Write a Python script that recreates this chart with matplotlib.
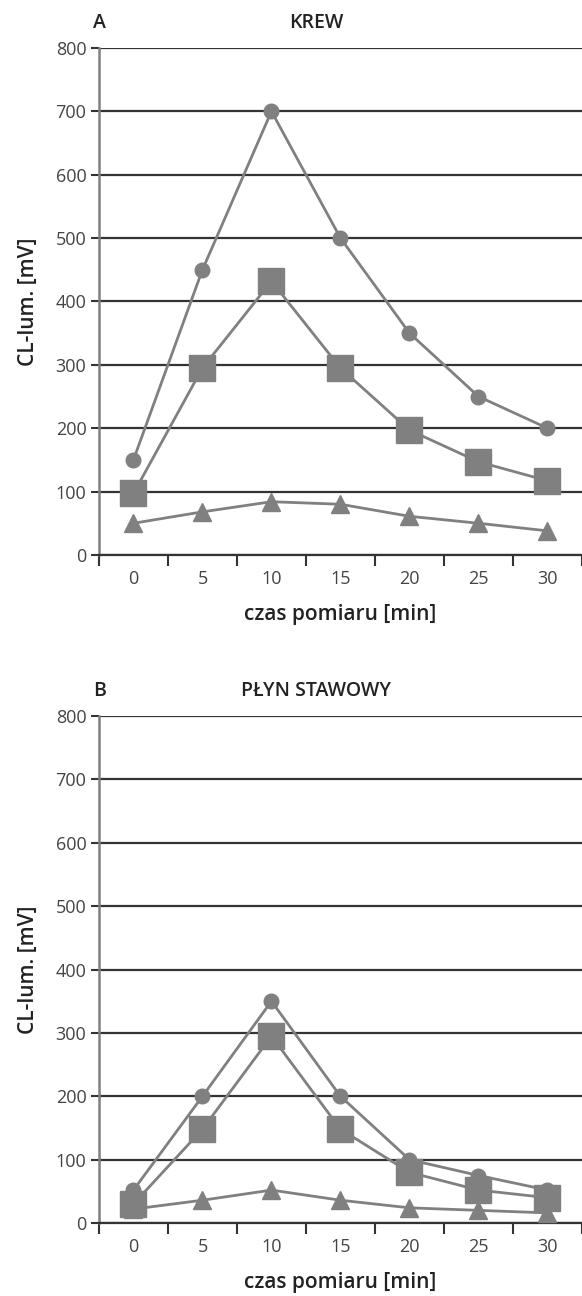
import numpy as np
import matplotlib
matplotlib.use("Agg")
from matplotlib import pyplot as plt

plt.rcParams['font.family'] = ['Open Sans', 'DejaVu Sans']

czas = ['0', '5', '10', '15', '20', '25', '30']

krew_kolo = [150, 450, 700, 500, 350, 250, 200]
krew_kwadrat = [97, 295, 432, 295, 197, 147, 117]
krew_trojkat = [50, 68, 84, 80, 61, 50, 38]

plyn_kolo = [52, 200, 350, 200, 100, 75, 52]
plyn_kwadrat = [30, 148, 295, 148, 80, 52, 40]
plyn_trojkat = [22, 36, 52, 36, 24, 20, 16]

szary = '#808080'
ciemny = '#333333'

fig = plt.figure(figsize=(5.82, 12.96), dpi=100)
ax1 = fig.add_axes([0.170, 0.5718, 0.830, 0.3912])
ax2 = fig.add_axes([0.170, 0.0563, 0.830, 0.3912])


def rysuj(ax, kolo, kwadrat, trojkat, litera, tytul):
    x = np.arange(len(czas))
    ax.plot(x, kolo, '-o', color=szary, lw=2, ms=10.5, zorder=3)
    ax.plot(x, kwadrat, '-s', color=szary, lw=2, ms=19, zorder=4)
    ax.plot(x, trojkat, '-^', color=szary, lw=2, ms=13, zorder=5)
    ax.set_xlim(-0.5, 6.5)
    ax.set_ylim(0, 800)
    ax.set_yticks(range(0, 801, 100))
    ax.yaxis.grid(True, color=ciemny, lw=1.6)
    ax.set_axisbelow(True)
    ax.set_xticks(x)
    ax.set_xticklabels(czas)
    ax.set_xticks(np.arange(-0.5, 7, 1), minor=True)
    ax.tick_params(axis='x', which='major', length=0, pad=11, labelsize=13, labelcolor='#444444')
    ax.tick_params(axis='x', which='minor', length=8, width=1.5, color=ciemny, direction='out')
    ax.tick_params(axis='y', length=6, width=1.5, color=ciemny, labelsize=13, pad=3, labelcolor='#444444')
    ax.spines['top'].set_visible(False)
    ax.spines['right'].set_visible(False)
    ax.spines['left'].set_color(szary)
    ax.spines['left'].set_linewidth(1.8)
    ax.spines['bottom'].set_color(ciemny)
    ax.spines['bottom'].set_linewidth(1.6)
    ax.set_ylabel('CL-lum. [mV]', fontsize=15, fontweight='semibold', labelpad=12, color='#222222')
    ax.set_xlabel('czas pomiaru [min]', fontsize=15, fontweight='semibold', labelpad=11, color='#222222')
    ax.text(-0.012, 1.03, litera, transform=ax.transAxes, fontsize=14, fontweight='semibold',
            ha='left', va='bottom', color='#222222')
    ax.text(0.449, 1.03, tytul, transform=ax.transAxes, fontsize=14, fontweight='semibold',
            ha='center', va='bottom', color='#222222')


rysuj(ax1, krew_kolo, krew_kwadrat, krew_trojkat, 'A', 'KREW')
rysuj(ax2, plyn_kolo, plyn_kwadrat, plyn_trojkat, 'B', 'PŁYN STAWOWY')

fig.savefig('out.png', dpi=100)
